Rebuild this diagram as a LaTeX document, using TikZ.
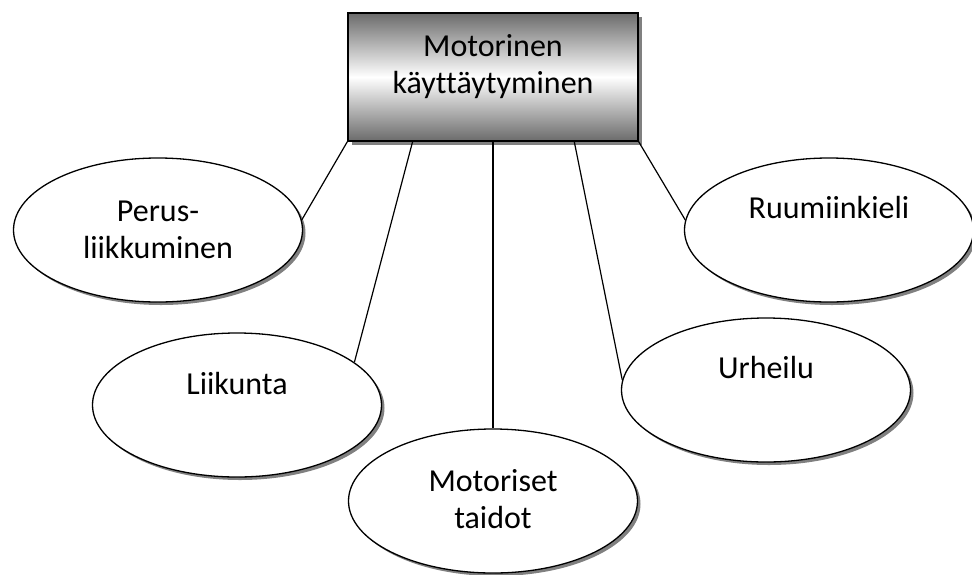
\documentclass[tikz,border=0pt]{standalone}
\usepackage{fontspec}
\setmainfont{Carlito}[Ligatures=CommonOff]
\usetikzlibrary{shapes.geometric,shadows,calc}
\tikzset{
  txt/.style={font=\fontsize{32}{37}\selectfont, align=center, text=black},
  topbox/.style={draw=black, line width=1.3pt, rectangle, minimum width=290pt, minimum height=128pt, inner sep=0pt,
    top color=black!58, bottom color=black!58, middle color=white,
    drop shadow={shadow xshift=4pt, shadow yshift=-4pt, fill=black!50, opacity=1}},
  ell/.style={draw=black, line width=1.3pt, ellipse, minimum width=289pt, minimum height=144pt, inner sep=0pt, fill=white,
    drop shadow={shadow xshift=3pt, shadow yshift=-3pt, fill=black!50, opacity=1}},
  conn/.style={draw=black, line width=1.2pt}
}
\begin{document}
\begin{tikzpicture}[x=1pt,y=-1pt]
\useasboundingbox (0,0) rectangle (972,574);
\node[topbox, label={[txt, yshift=10pt]center:Motorinen\\käyttäytyminen}] (top) at (493,77) {};
\node[ell, label={[txt]center:Perus-\\liikkuminen}] (per) at (158,230) {};
\node[ell, label={[txt, yshift=22pt]center:Liikunta}] (lik) at (237,405) {};
\node[ell, label={[txt, yshift=2pt]center:Motoriset\\taidot}] (mot) at (493,501) {};
\node[ell, label={[txt, yshift=23pt]center:Urheilu}] (urh) at (766,390) {};
\node[ell, label={[txt, yshift=22pt]center:Ruumiinkieli}] (ruu) at (829,230) {};
\coordinate (b2) at ($(top.south west)!0.224!(top.south east)$);
\coordinate (b4) at ($(top.south west)!0.779!(top.south east)$);
\draw[conn] (top.south west) -- (per.4);
\draw[conn] (b2) -- (lik.20);
\draw[conn] (top.south) -- (mot.north);
\draw[conn] (b4) -- (urh.176);
\draw[conn] (top.south east) -- (ruu.176);
\end{tikzpicture}
\end{document}
